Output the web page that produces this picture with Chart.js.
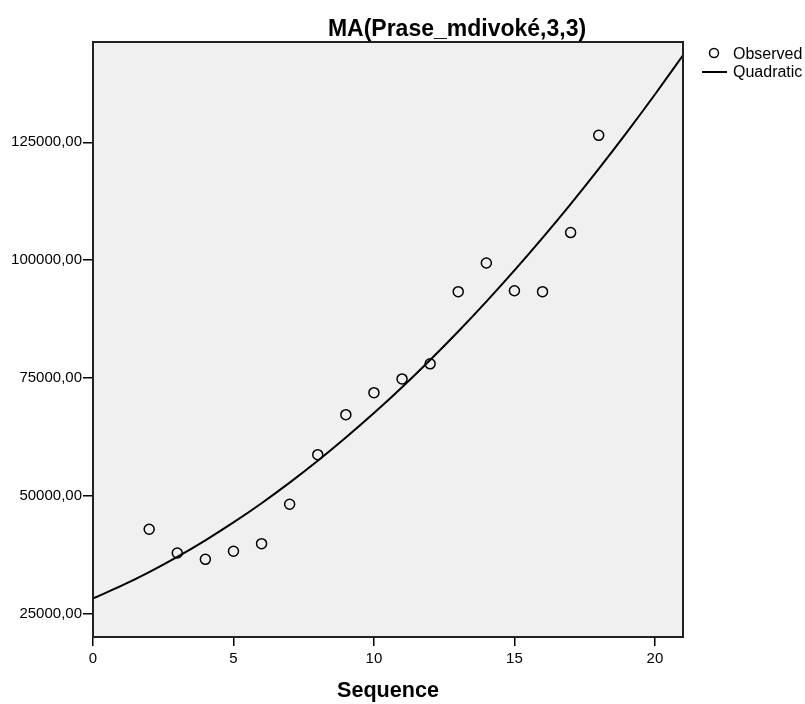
<!DOCTYPE html>
<html>
<head>
<meta charset="utf-8">
<script src="https://cdn.jsdelivr.net/npm/chart.js@4"></script>
<style>
  html, body { margin: 0; padding: 0; background: #fff; }
  #wrap { width: 805px; height: 704px; position: relative; }
</style>
</head>
<body>
<div id="wrap"><canvas id="chart"></canvas></div>
<script>
const sequence = [2, 3, 4, 5, 6, 7, 8, 9, 10, 11, 12, 13, 14, 15, 16, 17, 18];
const observed = [42870, 37830, 36490, 38190, 39810, 48190, 58700, 67190, 71870,
  74790, 77980, 93300, 99380, 93510, 93300, 105850, 126490];

// quadratic fit line, sampled at each sequence step
const fitSequence = [0, 1, 2, 3, 4, 5, 6, 7, 8, 9, 10, 11, 12, 13, 14, 15, 16, 17, 18, 19, 20, 21];
const quadratic = [28180, 30840, 33790, 37020, 40530, 44320, 48400, 52760, 57400, 62330,
  67530, 73020, 78800, 84850, 91190, 97810, 104720, 111900, 119370, 127120, 135160, 143470];

const xTicks = [0, 5, 10, 15, 20];
const yTicks = [25000, 50000, 75000, 100000, 125000];

const chartTitle = "MA(Prase_mdivoké,3,3)";
const legendLabels = ["Observed", "Quadratic"];

const FONT = "'Liberation Sans', Arial, sans-serif";

// grey plot background + black frame, title and legend
const frame = {
  id: "frame",
  beforeDraw(chart) {
    const { ctx, chartArea: a } = chart;
    ctx.save();
    ctx.fillStyle = "#f0f0f0";
    ctx.fillRect(a.left, a.top, a.right - a.left, a.bottom - a.top);
    ctx.restore();
  },
  afterDraw(chart) {
    const { ctx, chartArea: a } = chart;
    ctx.save();
    ctx.strokeStyle = "#222";
    ctx.lineWidth = 2;
    ctx.strokeRect(a.left, a.top, a.right - a.left, a.bottom - a.top);

    // title
    ctx.fillStyle = "#000";
    ctx.font = "bold 23px " + FONT;
    ctx.textAlign = "center";
    ctx.textBaseline = "alphabetic";
    ctx.fillText(chartTitle, 457, 36);

    // legend
    ctx.font = "16px " + FONT;
    ctx.textAlign = "left";
    ctx.textBaseline = "middle";
    ctx.lineWidth = 1.5;
    ctx.strokeStyle = "#000";
    ctx.beginPath();
    ctx.arc(714, 53, 4.5, 0, Math.PI * 2);
    ctx.stroke();
    ctx.fillText(legendLabels[0], 733, 55);
    ctx.lineWidth = 2;
    ctx.beginPath();
    ctx.moveTo(702, 72);
    ctx.lineTo(727, 72);
    ctx.stroke();
    ctx.fillText(legendLabels[1], 733, 73);
    ctx.restore();
  },
};

new Chart(document.getElementById("chart"), {
  type: "scatter",
  data: {
    datasets: [
      {
        label: legendLabels[0],
        data: sequence.map((s, i) => ({ x: s, y: observed[i] })),
        pointStyle: "circle",
        pointRadius: 5,
        pointBorderWidth: 1.5,
        pointBorderColor: "#000",
        pointBackgroundColor: "rgba(0,0,0,0)",
        showLine: false,
      },
      {
        label: legendLabels[1],
        data: fitSequence.map((s, i) => ({ x: s, y: quadratic[i] })),
        showLine: true,
        borderColor: "#000",
        borderWidth: 2,
        pointRadius: 0,
        cubicInterpolationMode: "monotone",
      },
    ],
  },
  options: {
    responsive: true,
    maintainAspectRatio: false,
    animation: false,
    layout: { padding: { top: 42, right: 122, bottom: 0, left: 0 } },
    plugins: {
      legend: { display: false },
      title: { display: false },
      tooltip: { enabled: false },
    },
    scales: {
      x: {
        type: "linear",
        min: 0,
        max: 21,
        afterBuildTicks: (axis) => {
          axis.ticks = xTicks.map((v) => ({ value: v }));
        },
        afterFit: (scale) => {
          scale.height = 67;
        },
        border: { display: false },
        grid: {
          drawOnChartArea: false,
          drawTicks: true,
          tickLength: 9,
          color: "#000",
          lineWidth: 1.5,
        },
        ticks: {
          color: "#000",
          font: { family: FONT, size: 15 },
          padding: 4,
          maxRotation: 0,
        },
        title: {
          display: true,
          text: "Sequence",
          color: "#000",
          font: { family: FONT, size: 21.6, weight: "bold" },
          padding: { top: 0, bottom: 0 },
        },
      },
      y: {
        type: "linear",
        min: 20000,
        max: 146300,
        afterBuildTicks: (axis) => {
          axis.ticks = yTicks.map((v) => ({ value: v }));
        },
        afterFit: (scale) => {
          scale.width = 93;
        },
        border: { display: false },
        grid: {
          drawOnChartArea: false,
          drawTicks: true,
          tickLength: 10,
          color: "#000",
          lineWidth: 1.5,
        },
        ticks: {
          color: "#000",
          font: { family: FONT, size: 15 },
          padding: 1,
          callback: (v) => v.toFixed(2).replace(".", ","),
        },
      },
    },
  },
  plugins: [frame],
});
</script>
</body>
</html>
